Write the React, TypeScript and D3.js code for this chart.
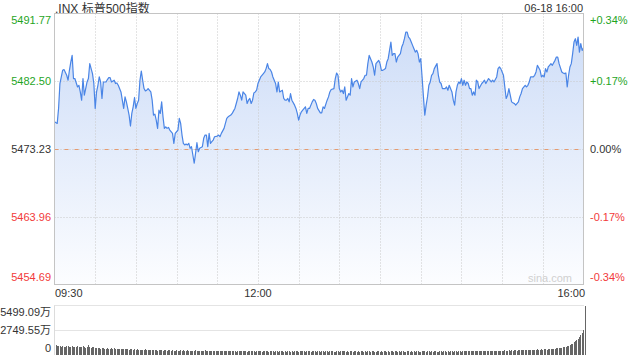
import React from 'react';
import * as d3 from 'd3';

const titleText = '.INX 标普500指数';
const dateText = '06-18 16:00';
const prevClose = 5473.23;
const priceTicks = [5491.77, 5482.5, 5473.23, 5463.96, 5454.69];
const pctTicks = ['+0.34%', '+0.17%', '0.00%', '-0.17%', '-0.34%'];
const timeTicks = [0, 150, 390];
const timeLabels = ['09:30', '12:00', '16:00'];
const volTicks = [5499.09, 2749.55, 0];
const volTickLabels = ['5499.09万', '2749.55万', '0'];

const minutes = [
  0, 2, 3, 4, 6, 7, 9, 10, 11, 12, 13, 14, 15, 17, 18, 19, 20, 21, 22, 23, 24, 25, 26, 28, 29,
  30, 31, 32, 33, 34, 35, 36, 38, 39, 40, 41, 42, 44, 45, 46, 47, 49, 50, 51, 52, 53, 54, 55, 56, 57, 58, 59,
  60, 61, 62, 63, 64, 65, 66, 67, 68, 69, 71, 72, 73, 74, 75, 76, 77, 78, 79, 80, 81, 82, 83, 84, 85, 87, 88, 89,
  90, 91, 92, 93, 94, 95, 96, 97, 98, 99, 100, 101, 102, 103, 104, 105, 106, 107, 109, 110, 111, 112, 113, 114, 115, 116, 117, 118,
  120, 121, 122, 123, 125, 126, 127, 128, 130, 131, 132, 133, 134, 135, 136, 137, 138, 139, 141, 142, 143, 144, 145, 146, 147, 148, 149,
  150, 151, 152, 154, 155, 156, 157, 158, 159, 160, 161, 163, 164, 165, 166, 168, 169, 170, 171, 172, 173, 174, 175, 177, 178, 179,
  180, 181, 182, 183, 185, 186, 187, 188, 190, 191, 192, 193, 194, 196, 197, 198, 199, 201, 202, 203, 204, 206, 207, 208, 209,
  210, 211, 212, 213, 214, 215, 217, 218, 219, 220, 221, 223, 224, 225, 226, 228, 229, 230, 231, 232, 233, 234, 235, 236, 237, 239,
  240, 241, 242, 243, 244, 245, 246, 247, 248, 249, 250, 251, 252, 253, 255, 256, 257, 258, 259, 260, 261, 262, 263, 264, 265, 266, 267, 268, 269,
  270, 271, 272, 273, 274, 275, 276, 277, 278, 279, 280, 282, 283, 284, 285, 286, 288, 289, 290, 291, 293, 294, 295, 296, 297, 298, 299,
  300, 301, 302, 303, 304, 305, 306, 307, 308, 309, 310, 311, 312, 313, 315, 316, 317, 318, 320, 321, 322, 323, 324, 326, 327, 328, 329,
  331, 332, 333, 334, 335, 336, 337, 338, 339, 340, 342, 343, 344, 345, 347, 348, 349, 350, 351, 353, 354, 355, 356, 358, 359,
  360, 361, 362, 363, 364, 365, 366, 367, 369, 370, 371, 372, 374, 375, 376, 377, 378, 379, 380, 381, 382, 383, 384, 385, 386, 387, 388, 389, 390,
];

const prices = [
  5476.95, 5476.73, 5478.78, 5482.19, 5484.0, 5484.1, 5483.32, 5482.64, 5484.0, 5485.13, 5486.04, 5482.87, 5482.87, 5481.72, 5481.95, 5481.04, 5479.91, 5482.87, 5480.59, 5481.5, 5482.4, 5482.87, 5484.91, 5483.55, 5482.19,
  5478.78, 5481.04, 5481.95, 5483.09, 5482.4, 5480.14, 5482.4, 5482.4, 5482.73, 5483.0, 5483.0, 5482.4, 5482.64, 5482.19, 5482.27, 5481.95, 5481.04, 5479.91, 5478.78, 5480.36, 5479.68, 5478.78, 5477.87, 5476.37, 5478.1, 5479.0, 5480.28,
  5478.78, 5479.46, 5479.91, 5482.64, 5483.9, 5482.64, 5481.5, 5481.18, 5481.27, 5481.5, 5481.04, 5479.91, 5477.87, 5478.0, 5477.18, 5476.05, 5478.55, 5478.1, 5479.68, 5477.63, 5476.05, 5476.27, 5476.05, 5476.19, 5475.82, 5475.37, 5474.01, 5475.37,
  5475.59, 5475.82, 5477.42, 5476.73, 5475.14, 5474.01, 5473.78, 5473.91, 5473.78, 5474.01, 5473.33, 5473.54, 5472.41, 5471.28, 5472.64, 5474.09, 5472.86, 5473.33, 5473.54, 5474.69, 5475.14, 5475.14, 5473.54, 5475.37, 5474.01, 5474.23, 5474.46, 5474.91,
  5475.0, 5475.14, 5474.91, 5475.37, 5476.05, 5476.73, 5477.42, 5477.63, 5477.87, 5478.1, 5478.45, 5478.78, 5479.46, 5480.14, 5481.04, 5480.59, 5479.91, 5481.04, 5480.59, 5479.46, 5479.91, 5480.14, 5479.46, 5479.91, 5480.91, 5481.04, 5481.27,
  5482.19, 5482.64, 5483.09, 5483.55, 5483.77, 5484.23, 5484.91, 5484.23, 5484.1, 5483.77, 5483.09, 5482.19, 5481.04, 5482.4, 5481.04, 5481.27, 5480.14, 5479.91, 5479.91, 5480.14, 5479.68, 5480.82, 5479.91, 5479.23, 5478.78, 5478.1,
  5477.18, 5477.87, 5478.32, 5478.55, 5479.0, 5478.1, 5478.78, 5478.78, 5479.68, 5480.01, 5479.91, 5479.46, 5478.78, 5478.18, 5478.18, 5479.0, 5478.78, 5479.91, 5480.36, 5481.04, 5481.37, 5481.5, 5482.87, 5483.63, 5483.32,
  5481.5, 5481.04, 5481.27, 5480.82, 5481.72, 5479.91, 5480.82, 5480.59, 5482.87, 5481.72, 5482.4, 5482.64, 5482.19, 5481.5, 5482.4, 5482.87, 5483.32, 5483.32, 5484.91, 5486.04, 5485.59, 5485.13, 5484.45, 5483.32, 5484.91, 5485.36,
  5484.91, 5484.0, 5484.0, 5484.1, 5484.23, 5485.13, 5485.59, 5486.73, 5487.86, 5486.04, 5486.28, 5486.28, 5485.13, 5485.81, 5486.28, 5487.18, 5487.64, 5488.32, 5489.22, 5489.22, 5488.54, 5488.32, 5487.86, 5487.41, 5486.96, 5486.49, 5486.73, 5486.28, 5485.13,
  5485.59, 5483.09, 5480.36, 5477.87, 5479.23, 5480.36, 5481.95, 5482.4, 5483.32, 5483.55, 5484.23, 5484.91, 5483.32, 5482.4, 5482.19, 5481.5, 5481.5, 5481.72, 5481.27, 5481.95, 5481.04, 5479.91, 5479.23, 5481.04, 5481.95, 5482.4, 5482.19,
  5482.87, 5481.95, 5482.64, 5481.95, 5482.4, 5482.19, 5481.5, 5481.5, 5480.59, 5481.04, 5480.59, 5482.64, 5482.4, 5481.5, 5482.19, 5482.4, 5482.64, 5482.19, 5482.87, 5482.64, 5482.4, 5482.64, 5482.4, 5483.09, 5484.23, 5484.45, 5484.23,
  5483.32, 5481.72, 5480.14, 5480.59, 5481.5, 5480.59, 5479.68, 5479.54, 5479.46, 5479.23, 5479.68, 5480.36, 5480.82, 5481.5, 5481.95, 5481.72, 5481.95, 5482.4, 5483.09, 5483.09, 5483.32, 5483.77, 5484.68, 5484.0, 5483.09,
  5483.32, 5483.09, 5484.23, 5483.77, 5484.45, 5484.68, 5484.91, 5484.68, 5485.36, 5485.81, 5485.81, 5484.91, 5483.77, 5483.63, 5483.55, 5483.63, 5481.72, 5483.32, 5484.45, 5484.91, 5486.28, 5487.86, 5488.32, 5487.41, 5488.54, 5486.49, 5487.64, 5486.73, 5487.03,
];

// per-minute volume, 万 shares, minutes 0..390
const volumes = [
  1080, 1020, 960, 990, 940, 1010, 920, 880, 950, 1000, 930, 870, 990, 900, 860, 940, 1050, 890, 840, 920, 960, 880, 830, 910, 1060, 870, 820, 900, 850, 800,
  780, 820, 740, 700, 760, 810, 690, 720, 770, 680, 650, 740, 700, 760, 640, 690, 720, 660, 630, 700, 680, 620, 710, 650, 600, 690, 640, 610, 660, 590,
  620, 580, 540, 600, 560, 520, 640, 550, 510, 580, 540, 500, 560, 530, 570, 490, 520, 550, 510, 480, 540, 500, 470, 560, 520, 490, 530, 480, 460, 510,
  490, 470, 520, 460, 500, 450, 480, 510, 440, 470, 490, 430, 460, 500, 450, 470, 440, 480, 420, 460, 500, 430, 450, 410, 470, 440, 420, 460, 430, 400,
  450, 420, 440, 400, 460, 410, 430, 390, 450, 420, 400, 440, 410, 380, 430, 460, 400, 420, 390, 410, 440, 380, 420, 400, 430, 390, 410, 370, 420, 400,
  390, 420, 380, 410, 440, 390, 400, 370, 420, 390, 410, 380, 430, 400, 370, 410, 390, 420, 380, 400, 360, 410, 390, 380, 420, 370, 400, 390, 410, 380,
  400, 430, 390, 410, 380, 420, 480, 400, 370, 410, 390, 400, 380, 420, 390, 370, 410, 400, 380, 390, 420, 370, 400, 390, 410, 380, 360, 400, 390, 380,
  410, 460, 390, 400, 380, 410, 370, 400, 390, 380, 420, 390, 370, 400, 380, 410, 390, 360, 400, 380, 390, 410, 370, 390, 400, 380, 370, 410, 390, 380,
  400, 380, 410, 390, 370, 400, 380, 420, 390, 370, 400, 390, 380, 410, 370, 390, 400, 380, 360, 390, 410, 380, 390, 370, 400, 380, 390, 410, 370, 380,
  420, 390, 400, 380, 410, 390, 370, 400, 380, 390, 410, 380, 370, 400, 390, 380, 410, 390, 370, 400, 380, 390, 400, 370, 390, 410, 380, 390, 400, 380,
  410, 430, 400, 420, 440, 410, 430, 400, 450, 420, 440, 410, 430, 460, 420, 440, 410, 450, 430, 420, 460, 440, 420, 450, 480, 430, 450, 470, 440, 460,
  470, 500, 460, 490, 520, 480, 510, 470, 500, 530, 490, 520, 550, 500, 530, 510, 560, 520, 540, 580, 530, 560, 600, 550, 590, 620, 570, 600, 640, 580,
  620, 650, 600, 680, 640, 700, 660, 720, 690, 750, 800, 760, 820, 780, 850, 900, 860, 950, 1000, 1100, 1250, 1200, 1450, 1550, 1650, 1800, 2000, 2200, 2450, 2750,
  5499.09,
];

const FONT = "Arial, 'Liberation Sans', 'Noto Sans CJK SC', sans-serif";
const GREEN = '#1fa51f';
const RED = '#f23a3a';
const TEXT = '#333';
const GRID = '#c8c8c8';

export default function App() {
  const left = 54.5, right = 583.5, top = 13.5, bottom = 284.5;
  const vTop = 305.5, vBottom = 355;
  const x = d3.scaleLinear().domain([0, 390]).range([left, right]);
  const y = d3.scaleLinear().domain([priceTicks[4], priceTicks[0]]).range([bottom, top]);
  const yv = d3.scaleLinear().domain([0, volTicks[0]]).range([vBottom, vTop]);

  const data = minutes.map((m, i) => ({ m, p: prices[i] }));
  const line = d3.line<{ m: number; p: number }>().x(d => x(d.m)).y(d => y(d.p));
  const area = d3.area<{ m: number; p: number }>().x(d => x(d.m)).y0(bottom).y1(d => y(d.p));

  const tickColor = (v: number) => (v > prevClose + 0.001 ? GREEN : v < prevClose - 0.001 ? RED : TEXT);
  const labelY = (i: number, n: number, yy: number) => (i === 0 ? yy + 7 : i === n - 1 ? yy - 7 : yy);
  const vGrid = d3.range(30, 390, 30);

  return (
    <svg width={640} height={360} style={{ position: 'absolute', left: 0, top: 0, background: '#fff' }} fontFamily={FONT}>
      <defs>
        <linearGradient id="areaGrad" gradientUnits="userSpaceOnUse" x1="0" y1={top} x2="0" y2={bottom}>
          <stop offset="0%" stopColor="#cbdbf7" />
          <stop offset="100%" stopColor="#fcfdff" />
        </linearGradient>
      </defs>

      <text x={55} y={12.5} fontSize={12} fill={TEXT}>{titleText}</text>
      <text x={583} y={12} fontSize={11} fill={TEXT} textAnchor="end">{dateText}</text>

      <path d={area(data) || ''} fill="url(#areaGrad)" />

      {vGrid.map(m => (
        <line key={'vg' + m} x1={Math.round(x(m)) + 0.5} x2={Math.round(x(m)) + 0.5} y1={top} y2={bottom} stroke={GRID} strokeDasharray="1,2" />
      ))}
      {priceTicks.slice(1, 4).map(v => (
        <line key={'hg' + v} x1={left} x2={right} y1={Math.round(y(v)) + 0.5} y2={Math.round(y(v)) + 0.5} stroke={GRID} strokeDasharray="1,2" />
      ))}
      <line x1={left} x2={right} y1={Math.round(y(prevClose)) + 0.5} y2={Math.round(y(prevClose)) + 0.5} stroke="#e59b70" strokeDasharray="4,6" />

      <path d={line(data) || ''} fill="none" stroke="#4a85e6" strokeWidth={1.2} strokeLinejoin="round" />

      <rect x={left} y={top} width={right - left} height={bottom - top} fill="none" stroke="#c4c4c4" />

      <text x={572} y={282} fontSize={11} fill="#d0d0d0" textAnchor="end">sina.com</text>

      {priceTicks.map((v, i) => (
        <text key={'pl' + i} x={51} y={labelY(i, priceTicks.length, y(v))} dy="0.35em" fontSize={11} fill={tickColor(v)} textAnchor="end">
          {v.toFixed(2)}
        </text>
      ))}
      {priceTicks.map((v, i) => (
        <text key={'pr' + i} x={590} y={labelY(i, priceTicks.length, y(v))} dy="0.35em" fontSize={11} fill={tickColor(v)}>
          {pctTicks[i]}
        </text>
      ))}

      {timeTicks.map((m, i) => (
        <text key={'tl' + i} x={i === 0 ? 55 : i === timeTicks.length - 1 ? 585 : x(m)} y={297} fontSize={11} fill={TEXT}
          textAnchor={i === 0 ? 'start' : i === timeTicks.length - 1 ? 'end' : 'middle'}>
          {timeLabels[i]}
        </text>
      ))}

      {/* volume panel */}
      <line x1={left} x2={right} y1={vTop} y2={vTop} stroke={GRID} strokeDasharray="1,1" />
      <line x1={left} x2={right} y1={Math.round(yv(volTicks[1])) + 0.5} y2={Math.round(yv(volTicks[1])) + 0.5} stroke={GRID} strokeDasharray="1,1" />
      <line x1={left} x2={left} y1={vTop} y2={vBottom} stroke="#dcdcdc" />
      {volumes.map((v, i) => (
        <rect key={'vb' + i} x={Math.round(x(i)) + 0.5} y={yv(v)} width={1} height={vBottom - yv(v)} fill="#666" shapeRendering="crispEdges" />
      ))}
      {volTicks.map((v, i) => (
        <text key={'vl' + i} x={51} y={labelY(i, volTicks.length, yv(v))} dy="0.35em" fontSize={11} fill={TEXT} textAnchor="end">
          {volTickLabels[i]}
        </text>
      ))}
    </svg>
  );
}
